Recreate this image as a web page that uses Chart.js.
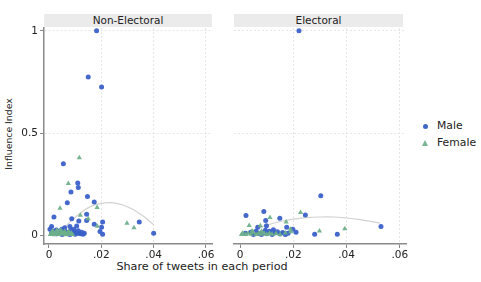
<!DOCTYPE html>
<html><head><meta charset="utf-8">
<script src="https://cdn.jsdelivr.net/npm/chart.js@4.4.0/dist/chart.umd.min.js"></script>
<style>
html,body{margin:0;padding:0;background:#fff;width:481px;height:282px;overflow:hidden;font-family:"DejaVu Sans",Verdana,sans-serif;}
canvas{position:absolute;}
.strip{position:absolute;top:14px;height:13px;background:#ebebeb;color:#222;font-size:10.5px;line-height:13px;text-align:center;z-index:2;}
.txt{position:absolute;color:#222;white-space:nowrap;}
</style></head><body>
<div class="strip" style="left:44px;width:168px;">Non-Electoral</div>
<div class="strip" style="left:234px;width:169px;">Electoral</div>
<div class="txt" style="left:0;top:260px;width:404px;text-align:center;font-size:11.2px;">Share of tweets in each period</div>
<div class="txt" style="left:8px;top:134px;font-size:9.3px;transform:translate(-50%,-50%) rotate(-90deg);">Influence Index</div>
<div style="position:absolute;left:423px;top:124px;width:5px;height:5px;border-radius:50%;background:#4068c8;"></div>
<div class="txt" style="left:437px;top:119px;font-size:10.8px;">Male</div>
<div style="position:absolute;left:422px;top:140px;width:0;height:0;border-left:3.5px solid transparent;border-right:3.5px solid transparent;border-bottom:6px solid #7ab592;"></div>
<div class="txt" style="left:437px;top:136px;font-size:10.8px;">Female</div>
<canvas id="c1" width="216" height="262" style="left:0;top:0;width:216px;height:262px;"></canvas>
<canvas id="c2" width="190" height="262" style="left:220px;top:0;width:190px;height:262px;"></canvas>
<script>
const xTicks = [0, 0.02, 0.04, 0.06];
const xTickLabels = ["0", ".02", ".04", ".06"];
const yTicks = [0, 0.5, 1];
const yTickLabels = ["0", "0.5", "1"];

const neMale = [[0.0182,1.0],[0.015,0.775],[0.0201,0.725],[0.0055,0.35],[0.011,0.256],[0.0112,0.234],[0.0084,0.212],[0.0147,0.19],[0.007,0.16],[0.0173,0.163],[0.0019,0.09],[0.0144,0.104],[0.0087,0.081],[0.0144,0.073],[0.0114,0.071],[0.0205,0.065],[0.0173,0.055],[0.0345,0.066],[0.040,0.011],[0.0195,0.019],[0.0205,0.006],[0.0201,0.04],[0.001,0.043],[0.008,0.043],[0.0106,0.046],[0.0112,0.023],[0.0004,0.03],[0.0049,0.03],[0.001,0.012],[0.002,0.02],[0.003,0.008],[0.004,0.018],[0.005,0.005],[0.006,0.022],[0.0065,0.01],[0.0075,0.015],[0.008,0.004],[0.0085,0.025],[0.009,0.01],[0.0095,0.018],[0.010,0.006],[0.0105,0.012],[0.011,0.01],[0.012,0.008],[0.0125,0.015],[0.013,0.006],[0.0135,0.011],[0.0095,0.03],[0.006,0.038],[0.0028,0.026]];
const neFemale = [[0.0116,0.38],[0.0074,0.254],[0.0042,0.133],[0.0184,0.136],[0.012,0.099],[0.015,0.082],[0.0185,0.045],[0.0298,0.06],[0.0325,0.038],[0.0005,0.005],[0.001,0.015],[0.0015,0.008],[0.002,0.003],[0.0025,0.012],[0.003,0.006],[0.0035,0.018],[0.004,0.004],[0.0045,0.01],[0.005,0.015],[0.0055,0.006],[0.006,0.012],[0.0065,0.003],[0.007,0.009],[0.0075,0.02],[0.008,0.006],[0.0085,0.012],[0.009,0.004],[0.0015,0.022],[0.003,0.025],[0.0045,0.028],[0.006,0.02]];
const elMale = [[0.0221,1.0],[0.0303,0.194],[0.0022,0.097],[0.0089,0.117],[0.0096,0.073],[0.0149,0.084],[0.0245,0.1],[0.0066,0.04],[0.0099,0.047],[0.0175,0.04],[0.0198,0.03],[0.021,0.016],[0.028,0.006],[0.0365,0.006],[0.0529,0.043],[0.002,0.01],[0.004,0.015],[0.005,0.005],[0.006,0.02],[0.007,0.01],[0.008,0.004],[0.009,0.015],[0.010,0.008],[0.011,0.02],[0.012,0.005],[0.013,0.012],[0.014,0.018],[0.015,0.007],[0.016,0.014],[0.017,0.004],[0.018,0.01],[0.0095,0.025],[0.0125,0.028]];
const elFemale = [[0.0112,0.087],[0.0227,0.112],[0.0173,0.065],[0.0034,0.048],[0.0076,0.047],[0.0189,0.03],[0.0298,0.022],[0.0393,0.032],[0.0005,0.005],[0.001,0.012],[0.002,0.004],[0.003,0.01],[0.004,0.006],[0.005,0.014],[0.006,0.004],[0.007,0.01],[0.008,0.006],[0.009,0.012],[0.010,0.004],[0.011,0.01],[0.012,0.006],[0.0135,0.009],[0.015,0.005],[0.017,0.012],[0.019,0.018],[0.0045,0.022],[0.008,0.02]];
const neFit = [[0.002,0.0],[0.005,0.03],[0.008,0.065],[0.012,0.11],[0.016,0.142],[0.020,0.157],[0.024,0.16],[0.028,0.15],[0.032,0.128],[0.036,0.095],[0.040,0.052]];
const elFit = [[0.002,0.005],[0.006,0.03],[0.010,0.05],[0.015,0.068],[0.020,0.08],[0.025,0.087],[0.030,0.09],[0.035,0.09],[0.040,0.085],[0.045,0.077],[0.050,0.066],[0.0525,0.06]];

const BLUE = 'rgba(58,96,200,0.95)';
const GREEN = 'rgba(110,176,138,0.95)';
const toPts = a => a.map(p => ({x:p[0], y:p[1]}));

function makeChart(id, male, female, fit, showY, xmin, padLeft) {
  new Chart(document.getElementById(id), {
    type: 'scatter',
    data: { datasets: [
      { label:'Female', data: toPts(female), pointStyle:'triangle', pointRadius:3, backgroundColor:GREEN, borderColor:GREEN, borderWidth:0 },
      { label:'Male', data: toPts(male), pointStyle:'circle', pointRadius:2.5, backgroundColor:BLUE, borderColor:BLUE, borderWidth:0 },
      { label:'fit', data: toPts(fit), showLine:true, pointRadius:0, borderColor:'#d2d2d2', borderWidth:1.2, tension:0.4, fill:false }
    ]},
    options: {
      responsive:false, animation:false, devicePixelRatio:1,
      layout:{ padding:{ left:padLeft, right:4, top:28, bottom:0 } },
      plugins:{ legend:{display:false}, tooltip:{enabled:false} },
      scales:{
        x:{ type:'linear', min:xmin, max:0.0623,
          afterBuildTicks: s => { s.ticks = xTicks.map(v => ({value:v})); },
          afterFit: s => { s.height = 18; },
          ticks:{ callback:(v,i) => xTickLabels[i], color:'#222', font:{family:'DejaVu Sans', size:10.5}, padding:1, maxRotation:0, autoSkip:false },
          grid:{ color:(c) => c.tick && c.tick.value === 0 ? 'rgba(0,0,0,0)' : '#e6e6e6', lineWidth:1, tickColor:'#888', tickLength:4, drawTicks:true },
          border:{ display:true, color:'#8a8a8a', width:1.5, dash:[2,2] }
        },
        y:{ type:'linear', min:-0.042, max:1.014, display:true,
          afterBuildTicks: s => { s.ticks = yTicks.map(v => ({value:v})); },
          afterFit: s => { s.width = showY ? 44 : 0; },
          ticks:{ display:showY, callback:(v,i) => yTickLabels[i], color:'#222', font:{family:'DejaVu Sans', size:10.5}, padding:2 },
          grid:{ color:(c) => c.tick && c.tick.value === 0 ? 'rgba(0,0,0,0)' : '#e6e6e6', lineWidth:1, tickColor:'#888', tickLength:4, drawTicks:showY },
          border:{ display:showY, color:'#8a8a8a', width:1.5, dash:[2,2] }
        }
      }
    }
  });
}
makeChart('c1', neMale, neFemale, neFit, true, -0.0019, 0);
makeChart('c2', elMale, elFemale, elFit, false, -0.0023, 14);
</script>
</body></html>
